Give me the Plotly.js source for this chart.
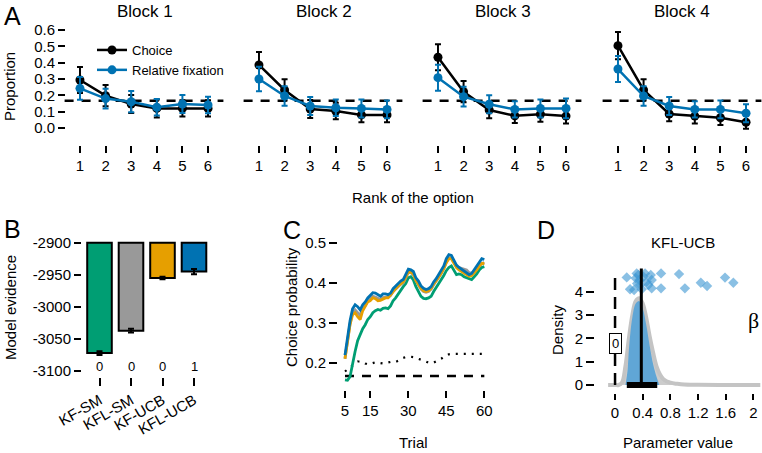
<!DOCTYPE html>
<html><head><meta charset="utf-8">
<script src="https://cdn.plot.ly/plotly-3.0.1.min.js"></script>
<style>html,body{margin:0;padding:0;background:#fff}#chart{width:762px;height:453px}</style>
</head><body><div id="chart"></div>
<script>
// ---------------- DATA ----------------
// Panel A
const ranks = [1, 2, 3, 4, 5, 6];
const blockNames = ['Block 1', 'Block 2', 'Block 3', 'Block 4'];
const chance = 1 / 6;
const choiceB1 = [0.294, 0.198, 0.147, 0.120, 0.120, 0.120];
const choiceErrB1 = [0.080, 0.065, 0.055, 0.055, 0.050, 0.050];
const fixB1 = [0.243, 0.180, 0.161, 0.127, 0.147, 0.141];
const fixErrB1 = [0.070, 0.060, 0.065, 0.050, 0.055, 0.050];
const choiceB2 = [0.386, 0.233, 0.116, 0.104, 0.080, 0.080];
const choiceErrB2 = [0.080, 0.065, 0.055, 0.050, 0.045, 0.045];
const fixB2 = [0.300, 0.196, 0.135, 0.124, 0.120, 0.114];
const fixErrB2 = [0.075, 0.060, 0.055, 0.050, 0.055, 0.055];
const choiceB3 = [0.433, 0.222, 0.110, 0.075, 0.084, 0.073];
const choiceErrB3 = [0.080, 0.065, 0.050, 0.045, 0.045, 0.045];
const fixB3 = [0.308, 0.192, 0.145, 0.114, 0.120, 0.120];
const fixErrB3 = [0.080, 0.060, 0.055, 0.050, 0.055, 0.060];
const choiceB4 = [0.504, 0.233, 0.086, 0.073, 0.063, 0.035];
const choiceErrB4 = [0.083, 0.065, 0.045, 0.045, 0.045, 0.040];
const fixB4 = [0.361, 0.196, 0.135, 0.114, 0.114, 0.090];
const fixErrB4 = [0.080, 0.060, 0.055, 0.050, 0.055, 0.055];
const yTicksA = [0, 0.1, 0.2, 0.3, 0.4, 0.5, 0.6];
const yTickTextA = ['0.0', '0.1', '0.2', '0.3', '0.4', '0.5', '0.6'];

// Panel B
const models = ['KF-SM', 'KFL-SM', 'KF-UCB', 'KFL-UCB'];
const evidence = [-3072, -3037, -2955, -2945];
const evidenceErr = [3, 3, 2, 4];
const evidenceBase = -2900;
const bestCount = [0, 0, 0, 1];
const yTicksB = [-2900, -2950, -3000, -3050, -3100];

// Panel C
const trials = [5,6,7,8,9,10,11,12,13,14,15,16,17,18,19,20,21,22,23,24,25,26,27,28,29,30,31,32,33,34,35,36,37,38,39,40,41,42,43,44,45,46,47,48,49,50,51,52,53,54,55,56,57,58,59,60];
const probKFSM = [0.157,0.156,0.165,0.200,0.228,0.255,0.270,0.285,0.295,0.308,0.315,0.325,0.330,0.333,0.331,0.336,0.337,0.335,0.342,0.355,0.362,0.372,0.380,0.390,0.398,0.412,0.415,0.407,0.390,0.378,0.366,0.361,0.360,0.362,0.366,0.378,0.388,0.396,0.405,0.418,0.430,0.438,0.442,0.430,0.420,0.422,0.420,0.415,0.413,0.410,0.408,0.415,0.422,0.432,0.438,0.440];
const probKFLSM = [0.210,0.258,0.298,0.325,0.332,0.325,0.318,0.336,0.343,0.355,0.360,0.366,0.364,0.360,0.358,0.363,0.364,0.363,0.368,0.378,0.385,0.390,0.396,0.400,0.412,0.426,0.425,0.420,0.405,0.395,0.384,0.378,0.376,0.378,0.384,0.395,0.404,0.413,0.423,0.435,0.452,0.462,0.462,0.452,0.440,0.438,0.436,0.434,0.432,0.425,0.424,0.428,0.435,0.443,0.448,0.450];
const probKFUCB = [0.210,0.255,0.295,0.320,0.325,0.315,0.308,0.330,0.340,0.352,0.355,0.362,0.360,0.355,0.356,0.360,0.362,0.362,0.370,0.380,0.385,0.392,0.398,0.402,0.414,0.428,0.426,0.422,0.406,0.396,0.386,0.380,0.378,0.380,0.386,0.397,0.405,0.414,0.424,0.435,0.450,0.460,0.460,0.450,0.438,0.432,0.428,0.422,0.420,0.416,0.418,0.425,0.432,0.442,0.448,0.448];
const probKFLUCB = [0.219,0.265,0.305,0.335,0.345,0.340,0.332,0.345,0.352,0.362,0.368,0.375,0.374,0.370,0.366,0.372,0.372,0.370,0.374,0.385,0.392,0.398,0.404,0.408,0.420,0.434,0.432,0.428,0.412,0.404,0.392,0.386,0.383,0.385,0.390,0.402,0.410,0.420,0.430,0.442,0.460,0.470,0.468,0.455,0.444,0.438,0.434,0.428,0.425,0.420,0.423,0.432,0.440,0.452,0.460,0.458];
const probRandom = [0.178,0.183,0.188,0.195,0.200,0.203,0.203,0.202,0.198,0.196,0.197,0.200,0.201,0.200,0.199,0.198,0.199,0.201,0.202,0.201,0.202,0.205,0.209,0.212,0.214,0.215,0.215,0.214,0.212,0.210,0.207,0.205,0.203,0.200,0.199,0.200,0.203,0.207,0.210,0.215,0.219,0.221,0.222,0.222,0.222,0.222,0.222,0.222,0.221,0.221,0.221,0.222,0.222,0.222,0.222,0.222];
const xTicksC = [5, 15, 30, 45, 60];
const yTicksC = [0.2, 0.3, 0.4, 0.5];

// Panel D
const groupGrid = [-0.1,0,0.05,0.1,0.15,0.2,0.25,0.3,0.35,0.4,0.45,0.5,0.55,0.6,0.65,0.7,0.8,0.9,1.0,1.2,1.5,2.1];
const groupDens = [0,0,0,0.1,0.8,2.0,3.0,3.6,3.72,3.5,2.9,2.1,1.4,0.8,0.45,0.25,0.1,0.05,0.02,0.01,0,0];
const postGrid = [0.15,0.18,0.2,0.25,0.3,0.35,0.4,0.45,0.5,0.55,0.6,0.64];
const postDens = [0,0.6,1.5,2.9,3.5,3.6,3.3,2.6,1.7,0.9,0.35,0];
const betaMean = 0.38;
const betaHDI = [0.17, 0.61];
const betaEst = [0.169,0.217,0.275,0.313,0.337,0.352,0.361,0.385,0.434,0.458,0.482,0.516,0.53,0.53,0.665,0.665,0.925,1.01,1.24,1.33,1.59,1.71,0.30,0.41,0.32];
const betaJitter = [4.62,4.11,4.08,4.79,4.72,4.51,4.29,4.11,4.79,4.43,4.29,4.72,4.51,4.15,4.79,4.15,4.76,4.15,4.39,4.25,4.61,4.39,4.58,4.65,4.36];
const xTicksD = [0, 0.4, 0.8, 1.2, 1.6, 2];
const xTickTextD = ['0', '0.4', '0.8', '1.2', '1.6', '2'];
const yTicksD = [0, 1, 2, 3, 4];

// ---------------- STYLE / LAYOUT ----------------
const W = 762, H = 453;
const px = v => v / W, py = v => 1 - v / H;
const FONT = 'Liberation Sans, Arial, Helvetica, sans-serif';
const BLACK = '#000000', BLUE = '#0072B2', ORANGE = '#E69F00', GREEN = '#009E73', GRAY = '#999999';
const DASH = '9px,8px';

const traces = [];
const choiceSets = [[choiceB1, choiceErrB1], [choiceB2, choiceErrB2], [choiceB3, choiceErrB3], [choiceB4, choiceErrB4]];
const fixSets = [[fixB1, fixErrB1], [fixB2, fixErrB2], [fixB3, fixErrB3], [fixB4, fixErrB4]];
const xaNames = ['x', 'x2', 'x3', 'x4'];
for (let b = 0; b < 4; b++) {
  traces.push({
    type: 'scatter', mode: 'lines+markers', x: ranks, y: choiceSets[b][0],
    xaxis: xaNames[b], yaxis: 'y', name: 'Choice', showlegend: b === 0, legendrank: 1,
    line: {color: BLACK, width: 2.5}, marker: {color: BLACK, size: 9},
    error_y: {type: 'data', array: choiceSets[b][1], color: BLACK, thickness: 2, width: 3}
  });
}
for (let b = 0; b < 4; b++) {
  traces.push({
    type: 'scatter', mode: 'lines+markers', x: ranks, y: fixSets[b][0],
    xaxis: xaNames[b], yaxis: 'y', name: 'Relative fixation', showlegend: b === 0, legendrank: 2,
    line: {color: BLUE, width: 2.5}, marker: {color: BLUE, size: 9},
    error_y: {type: 'data', array: fixSets[b][1], color: BLUE, thickness: 2, width: 3}
  });
}

// Panel B
traces.push({
  type: 'bar', x: models, y: evidence.map(v => v - evidenceBase), base: evidenceBase,
  xaxis: 'x5', yaxis: 'y2', showlegend: false, width: 0.78,
  marker: {color: [GREEN, GRAY, ORANGE, BLUE], line: {color: BLACK, width: 2}},
  error_y: {type: 'data', array: evidenceErr, color: BLACK, thickness: 2, width: 3}
});

// Panel C
traces.push({type: 'scatter', mode: 'lines', x: [trials[0], trials[trials.length - 1]], y: [chance, chance],
  xaxis: 'x6', yaxis: 'y3', showlegend: false, line: {color: BLACK, width: 2.5, dash: DASH}});
traces.push({type: 'scatter', mode: 'lines', x: trials, y: probRandom,
  xaxis: 'x6', yaxis: 'y3', showlegend: false, line: {color: BLACK, width: 2.2, dash: '2px,6px'}});
[[probKFSM, GREEN], [probKFLSM, GRAY], [probKFUCB, ORANGE], [probKFLUCB, BLUE]].forEach(([arr, col]) => {
  traces.push({type: 'scatter', mode: 'lines', x: trials, y: arr, xaxis: 'x6', yaxis: 'y3',
    showlegend: false, line: {color: col, width: 2.8}});
});

// Panel D
traces.push({type: 'scatter', mode: 'lines', x: groupGrid, y: groupDens, xaxis: 'x7', yaxis: 'y4',
  showlegend: false, fill: 'tozeroy', fillcolor: '#cccccc', line: {color: '#c4c4c4', width: 4, shape: 'spline'}});
traces.push({type: 'scatter', mode: 'lines', x: postGrid, y: postDens, xaxis: 'x7', yaxis: 'y4',
  showlegend: false, fill: 'tozeroy', fillcolor: 'rgb(96,166,214)', line: {color: 'rgba(96,166,214,0)', width: 0, shape: 'spline'}});
traces.push({type: 'scatter', mode: 'lines', x: [0, 0], y: [0, 4.82], xaxis: 'x7', yaxis: 'y4',
  showlegend: false, line: {color: BLACK, width: 2.5, dash: '12px,7px'}});
traces.push({type: 'scatter', mode: 'markers', x: betaEst, y: betaJitter, xaxis: 'x7', yaxis: 'y4',
  showlegend: false, marker: {symbol: 'diamond', size: 8, color: 'rgba(60,150,210,0.6)'}});
traces.push({type: 'scatter', mode: 'lines', x: betaHDI, y: [0, 0], xaxis: 'x7', yaxis: 'y4',
  showlegend: false, line: {color: BLACK, width: 6}});
traces.push({type: 'scatter', mode: 'lines', x: [betaMean, betaMean], y: [0, 5.0], xaxis: 'x7', yaxis: 'y4',
  showlegend: false, line: {color: BLACK, width: 3}});

const tickFont = {family: FONT, size: 15, color: BLACK};
function xAx(domPx, range, posPx, extra) {
  return Object.assign({domain: [px(domPx[0]), px(domPx[1])], range: range, anchor: 'free', position: py(posPx),
    showgrid: false, zeroline: false, showline: false, ticks: 'outside', ticklen: 7, tickwidth: 2,
    tickcolor: BLACK, tickfont: tickFont, fixedrange: true}, extra || {});
}
function yAx(domPx, range, posPx, extra) {
  return Object.assign({domain: [py(domPx[1]), py(domPx[0])], range: range, anchor: 'free', position: px(posPx),
    showgrid: false, zeroline: false, showline: false, ticks: 'outside', ticklen: 7, tickwidth: 2,
    tickcolor: BLACK, tickfont: tickFont, fixedrange: true}, extra || {});
}
const aRange = [0.4, 6.6];
const layout = {
  width: W, height: H, margin: {l: 0, r: 0, t: 0, b: 0}, paper_bgcolor: '#fff', plot_bgcolor: 'rgba(0,0,0,0)',
  font: {family: FONT, size: 15, color: BLACK},
  showlegend: true,
  legend: {x: px(92), y: py(35), xanchor: 'left', yanchor: 'top', bgcolor: 'rgba(0,0,0,0)',
    font: {family: FONT, size: 13, color: BLACK}, tracegroupgap: 0, itemwidth: 30},
  xaxis: xAx([64.6, 223.4], aRange, 145, {tickvals: ranks}),
  xaxis2: xAx([243.6, 402.4], aRange, 145, {tickvals: ranks}),
  xaxis3: xAx([422.6, 581.4], aRange, 145, {tickvals: ranks}),
  xaxis4: xAx([602.6, 761.4], aRange, 145, {tickvals: ranks}),
  yaxis: yAx([25.1, 132.9], [-0.03, 0.63], 65, {tickvals: yTicksA, ticktext: yTickTextA}),
  xaxis5: xAx([80.6, 212.9], [-0.6, 3.6], 377, {type: 'category', tickangle: -30, ticklen: 8}),
  yaxis2: yAx([236.3, 377.5], [-3110, -2890], 81, {tickvals: yTicksB, ticktext: yTicksB.map(String)}),
  xaxis6: xAx([339.9, 489.4], [3, 62], 390, {tickvals: xTicksC}),
  yaxis3: yAx([234.7, 386.7], [0.14, 0.52], 337, {tickvals: yTicksC, ticktext: yTicksC.map(v => v.toFixed(1)), ticklen: 8}),
  xaxis7: xAx([601.2, 761.7], [-0.2, 2.12], 393, {tickvals: xTicksD, ticktext: xTickTextD, ticklen: 6}),
  yaxis4: yAx([266.2, 392], [-0.3, 5.1], 594, {tickvals: yTicksD, ticklen: 8}),
  shapes: xaNames.map(xa => ({type: 'line', xref: xa + ' domain', x0: 0, x1: 1, yref: 'y', y0: chance, y1: chance,
    line: {color: BLACK, width: 2.5, dash: DASH}, layer: 'below'})),
  annotations: []
};
const ann = (text, x, y, opts) => Object.assign({text: text, x: px(x), y: py(y), xref: 'paper', yref: 'paper',
  showarrow: false, xanchor: 'center', yanchor: 'middle', font: {family: FONT, size: 15, color: BLACK}}, opts || {});
const blockCenters = [144.5, 324, 503, 682];
blockNames.forEach((n, i) => layout.annotations.push(ann(n, blockCenters[i], 11, {font: {family: FONT, size: 17, color: BLACK}})));
layout.annotations.push(ann('A', 12.5, 16, {font: {family: FONT, size: 25, color: BLACK}}));
layout.annotations.push(ann('B', 12, 229, {font: {family: FONT, size: 25, color: BLACK}}));
layout.annotations.push(ann('C', 292, 230, {font: {family: FONT, size: 25, color: BLACK}}));
layout.annotations.push(ann('D', 546, 230, {font: {family: FONT, size: 25, color: BLACK}}));
layout.annotations.push(ann('Proportion', 10, 87, {textangle: -90}));
layout.annotations.push(ann('Rank of the option', 413, 197));
layout.annotations.push(ann('Model evidence', 10, 308, {textangle: -90}));
layout.annotations.push(ann('Choice probability', 291, 307, {textangle: -90}));
layout.annotations.push(ann('Trial', 413, 442));
layout.annotations.push(ann('Density', 557, 330, {textangle: -90}));
layout.annotations.push(ann('Parameter value', 678, 442));
layout.annotations.push(ann('KFL-UCB', 683, 243));
layout.annotations.push(ann('β', 753, 320, {font: {family: 'Liberation Serif, DejaVu Serif, serif', size: 22, color: BLACK}}));
models.forEach((m, i) => layout.annotations.push({text: String(bestCount[i]), x: m, xref: 'x5', y: py(366), yref: 'paper',
  yanchor: 'middle', xanchor: 'center', showarrow: false, font: {family: FONT, size: 13, color: BLACK}}));
layout.annotations.push({text: '0', x: 0, y: 1.8, xref: 'x7', yref: 'y4', showarrow: false, bgcolor: '#fff',
  xanchor: 'center', yanchor: 'middle', bordercolor: BLACK, borderwidth: 1, borderpad: 2, font: {family: FONT, size: 13, color: BLACK}});

Plotly.newPlot('chart', traces, layout, {staticPlot: true, displayModeBar: false});
</script></body></html>
